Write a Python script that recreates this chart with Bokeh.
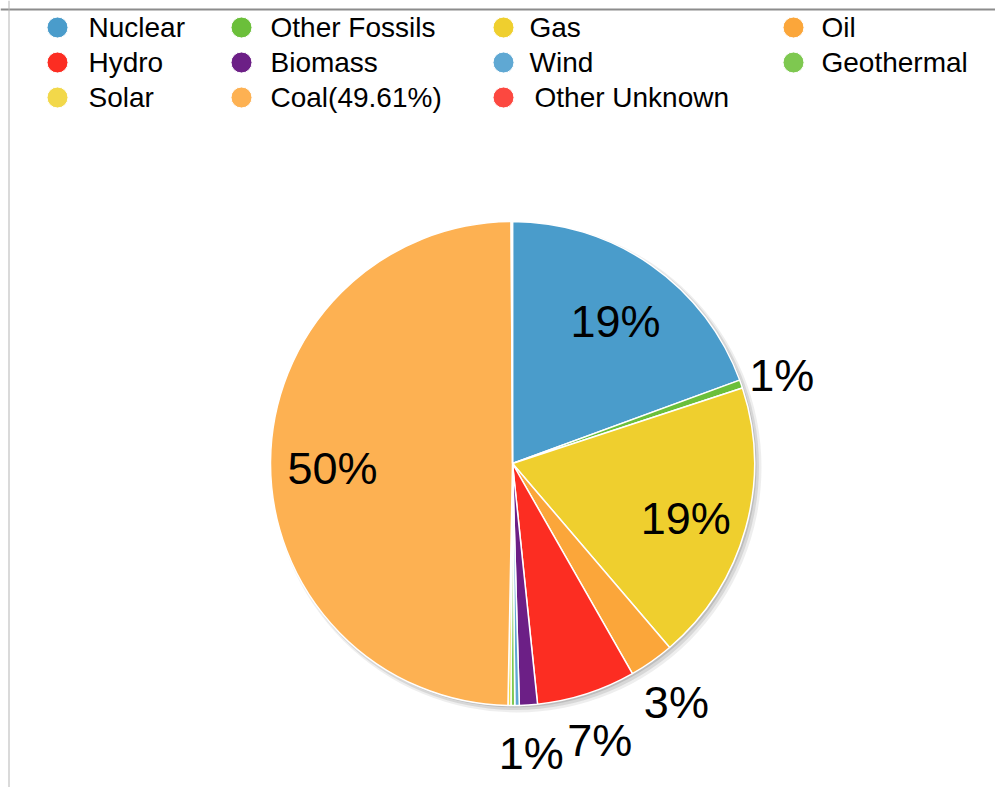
import math
from bokeh.plotting import figure
from bokeh.models import ColumnDataSource, Range1d, Span
from bokeh.core.properties import value
from bokeh.embed import file_html
from bokeh.resources import INLINE

# ---- data ----
sources = ["Nuclear", "Other Fossils", "Gas", "Oil", "Hydro", "Biomass",
           "Wind", "Geothermal", "Solar", "Coal", "Other Unknown"]
shares = [19.4, 0.55, 18.8, 3.0, 6.6, 1.2, 0.3, 0.25, 0.2, 49.61, 0.09]
colors = ["#4a9ccb", "#6bbf3a", "#efcf2e", "#fba63a", "#fc2d22", "#6c1f86",
          "#5fa8d3", "#7ec850", "#f2d84a", "#fdb152", "#fc4840"]
legend_labels = ["Nuclear", "Other Fossils", "Gas", "Oil", "Hydro", "Biomass",
                 "Wind", "Geothermal", "Solar", "Coal(49.61%)", "Other Unknown"]

W, H = 995, 787
FONT = "Liberation Sans"

p = figure(width=W, height=H, output_backend="svg", toolbar_location=None,
           x_range=Range1d(0, W), y_range=Range1d(0, H), min_border=0)
p.axis.visible = False
p.grid.visible = False
p.outline_line_color = None
p.background_fill_color = "white"
p.border_fill_color = "white"

# image coords helper (x data = image x, y data = H - image y)
def py(y):
    return H - y

cx, cy = 512, py(463)
R = 242

# pie geometry from data
total = sum(shares)
starts, ends, mids = [], [], []
acc = 0.0
for v in shares:
    a0 = acc / total
    acc += v
    a1 = acc / total
    starts.append(math.pi / 2 - 2 * math.pi * a0)
    ends.append(math.pi / 2 - 2 * math.pi * a1)
    mids.append(2 * math.pi * (a0 + a1) / 2)

# shadow
for off, alpha, extra in [(4, 0.10, 3), (3, 0.15, 1.5), (2, 0.2, 0)]:
    p.scatter(x=[cx + off], y=[cy - off], size=2 * (R + extra), marker="circle",
              fill_color="#555555", fill_alpha=alpha, line_color=None)

src = ColumnDataSource(dict(x=[cx] * len(shares), y=[cy] * len(shares),
                            start=starts, end=ends, color=colors))
p.wedge(x="x", y="y", radius=R, radius_units="screen", start_angle="start",
        end_angle="end", direction="clock", fill_color="color",
        line_color="white", line_width=1.5, source=src)

# labels
lx, ly, lt = [], [], []
for v, m in zip(shares, mids):
    r = round(v)
    if r < 1:
        continue
    rr = 180 if v >= 10 else 285
    lx.append(cx + rr * math.sin(m))
    ly.append(cy + rr * math.cos(m))
    lt.append(f"{r}%")
p.text(x=lx, y=ly, text=lt, text_align="center", text_baseline="middle",
       y_offset=6, text_font=value(FONT), text_font_size="45px",
       text_color="black")

# legend
circ_x = [57, 241, 503, 793]
text_x = [88, 270, 529, 821]
row_y = [27, 62, 97]
gx, gy, tx, ty = [], [], [], []
for i, lab in enumerate(legend_labels):
    c, r = i % 4, i // 4
    gx.append(circ_x[c]); gy.append(py(row_y[r]))
    tx.append(text_x[c] + (5 if lab == "Other Unknown" else 0)); ty.append(py(row_y[r]))
p.scatter(x=gx, y=gy, size=21, marker="circle", fill_color=colors,
          line_color="white", line_width=1)
p.text(x=tx, y=ty, text=legend_labels, text_align="left", text_baseline="middle",
       text_font=value(FONT), text_font_size="28px", text_color="black")

# border lines
p.add_layout(Span(location=py(9), dimension="width", line_color="#8c8c8c", line_width=2))
p.add_layout(Span(location=8.5, dimension="height", line_color="#b5b5b5", line_width=1))

open("out.html", "w").write(file_html(p, INLINE))
